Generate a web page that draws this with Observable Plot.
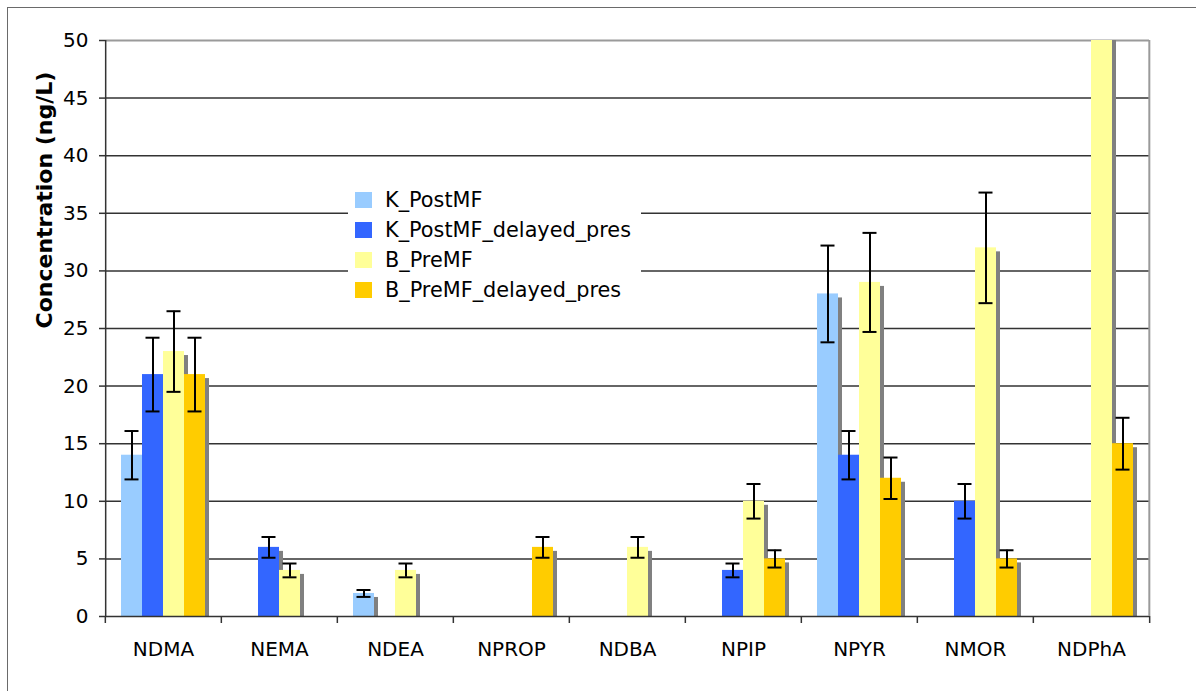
<!DOCTYPE html>
<html>
<head>
<meta charset="utf-8">
<script src="https://cdn.jsdelivr.net/npm/d3@7"></script>
<script src="https://cdn.jsdelivr.net/npm/@observablehq/plot@0.6"></script>
<style>
  html, body { margin: 0; padding: 0; background: #fff; overflow: hidden; }
  #wrap { position: relative; width: 1196px; height: 691px; font-family: "DejaVu Sans", Verdana, sans-serif; }
  #border { position: absolute; left: 7px; top: 7px; width: 1400px; height: 900px; border-left: 1.5px solid #6a6a6a; border-top: 1.5px solid #6a6a6a; pointer-events: none; }
  #legend { position: absolute; left: 348px; top: 180px; width: 293px; height: 128px; background: #fff; }
  .item { position: absolute; left: 7px; height: 20px; display: flex; align-items: center; font-size: 20.8px; color: #000; white-space: nowrap; }
  .sw { width: 17px; height: 16px; margin-right: 13px; flex: none; }
  svg { position: absolute; left: 0; top: 0; }
</style>
</head>
<body>
<div id="wrap"><div id="border"></div></div>
<script>
// ---- data ----
const categories = ["NDMA", "NEMA", "NDEA", "NPROP", "NDBA", "NPIP", "NPYR", "NMOR", "NDPhA"];
const seriesNames = ["K_PostMF", "K_PostMF_delayed_pres", "B_PreMF", "B_PreMF_delayed_pres"];
const seriesColors = ["#99CCFF", "#3366FF", "#FFFF99", "#FFCC00"];

const kPostMF        = [14, 0, 2, 0, 0, 0, 28, 0, 0];
const kPostMFErr     = [2.1, 0, 0.3, 0, 0, 0, 4.2, 0, 0];
const kPostMFDelayed = [21, 6, 0, 0, 0, 4, 14, 10, 0];
const kPostMFDelErr  = [3.2, 0.9, 0, 0, 0, 0.6, 2.1, 1.5, 0];
const bPreMF         = [23, 4, 4, 0, 6, 10, 29, 32, 62];
const bPreMFErr      = [3.5, 0.6, 0.6, 0, 0.9, 1.5, 4.3, 4.8, 9.3];
const bPreMFDelayed  = [21, 0, 0, 6, 0, 5, 12, 5, 15];
const bPreMFDelErr   = [3.2, 0, 0, 0.9, 0, 0.75, 1.8, 0.75, 2.25];

const yTicks = [0, 5, 10, 15, 20, 25, 30, 35, 40, 45, 50];
const yTitle = "Concentration (ng/L)";

// ---- build table ----
const valueSets = [kPostMF, kPostMFDelayed, bPreMF, bPreMFDelayed];
const errSets = [kPostMFErr, kPostMFDelErr, bPreMFErr, bPreMFDelErr];
const rows = [];
seriesNames.forEach((s, si) => {
  categories.forEach((c, ci) => {
    const v = valueSets[si][ci];
    if (v > 0) rows.push({category: c, series: s, value: v, lo: v - errSets[si][ci], hi: v + errSets[si][ci]});
  });
});

// ---- layout ----
const W = 1196, H = 691, mL = 103, mR = 46, mT = 40, mB = 75;
const outer = 0.74;
const facetW = (W - mL - mR) / categories.length;
const barStep = facetW / (seriesNames.length + 2 * outer);
const edgeOffset = (outer + 0.5) * barStep;
const fxOf = () => categories[0];

const chart = Plot.plot({
  width: W, height: H,
  marginLeft: mL, marginRight: mR, marginTop: mT, marginBottom: mB,
  style: {fontFamily: "DejaVu Sans, Verdana, sans-serif", fontSize: "20px", color: "#000", background: "transparent", overflow: "visible"},
  fx: {domain: categories, padding: 0},
  x: {domain: seriesNames, paddingInner: 0, paddingOuter: outer, axis: null},
  y: {domain: [0, 50]},
  color: {domain: seriesNames, range: seriesColors},
  marks: [
    Plot.ruleY(yTicks.filter(t => t > 0 && t < 50), {stroke: "#333", strokeWidth: 1.5}),
    Plot.ruleY([50], {stroke: "#9a9a9a", strokeWidth: 2}),
    Plot.barY(rows, {fx: "category", x: "series", y: "value", fill: "#808080", dx: 4, insetTop: 4, clip: true}),
    Plot.barY(rows, {fx: "category", x: "series", y: "value", fill: "series", clip: true}),
    Plot.ruleX(rows, {fx: "category", x: "series", y1: "lo", y2: "hi", stroke: "#000", strokeWidth: 2, clip: true}),
    Plot.tickY(rows, {fx: "category", x: "series", y: "lo", stroke: "#000", strokeWidth: 2, insetLeft: 3.5, insetRight: 3.5, clip: true}),
    Plot.tickY(rows, {fx: "category", x: "series", y: "hi", stroke: "#000", strokeWidth: 2, insetLeft: 3.5, insetRight: 3.5, clip: true}),
    Plot.ruleY([0], {stroke: "#333", strokeWidth: 1.5}),
    Plot.ruleX([seriesNames[0]], {fx: fxOf, x: d => d, y1: 0, y2: 50, dx: -edgeOffset, stroke: "#333", strokeWidth: 1.5}),
    Plot.ruleX([seriesNames[3]], {fx: () => categories[categories.length - 1], x: d => d, y1: 0, y2: 50, dx: edgeOffset, stroke: "#9a9a9a", strokeWidth: 2}),
    Plot.axisY({ticks: yTicks, tickSize: 6, tickPadding: 11, label: null, fontSize: 20, stroke: "#333", strokeWidth: 1.5, color: "#000"}),
    Plot.axisFx({anchor: "bottom", tickSize: 7, tickFormat: () => "", label: null, dx: -facetW / 2, stroke: "#333", strokeWidth: 1.5}),
    Plot.axisFx({anchor: "bottom", ticks: [categories[categories.length - 1]], tickSize: 7, tickFormat: () => "", label: null, dx: facetW / 2, stroke: "#333", strokeWidth: 1.5}),
    Plot.axisFx({anchor: "bottom", tickSize: 0, tickPadding: 25, label: null, fontSize: 20, fill: "#000"}),
    Plot.text([yTitle], {fx: fxOf, frameAnchor: "left", rotate: -90, dx: -61, fontSize: 22, fontWeight: "bold", fill: "#000"})
  ]
});

const wrap = document.getElementById("wrap");
wrap.appendChild(chart);

// legend
const legend = document.createElement("div");
legend.id = "legend";
const centers = [20, 49.5, 80, 110];
seriesNames.forEach((s, i) => {
  const item = document.createElement("div");
  item.className = "item";
  item.style.top = (centers[i] - 10) + "px";
  const sw = document.createElement("span");
  sw.className = "sw";
  sw.style.background = seriesColors[i];
  const t = document.createElement("span");
  t.textContent = s;
  item.appendChild(sw);
  item.appendChild(t);
  legend.appendChild(item);
});
wrap.appendChild(legend);
</script>
</body>
</html>
